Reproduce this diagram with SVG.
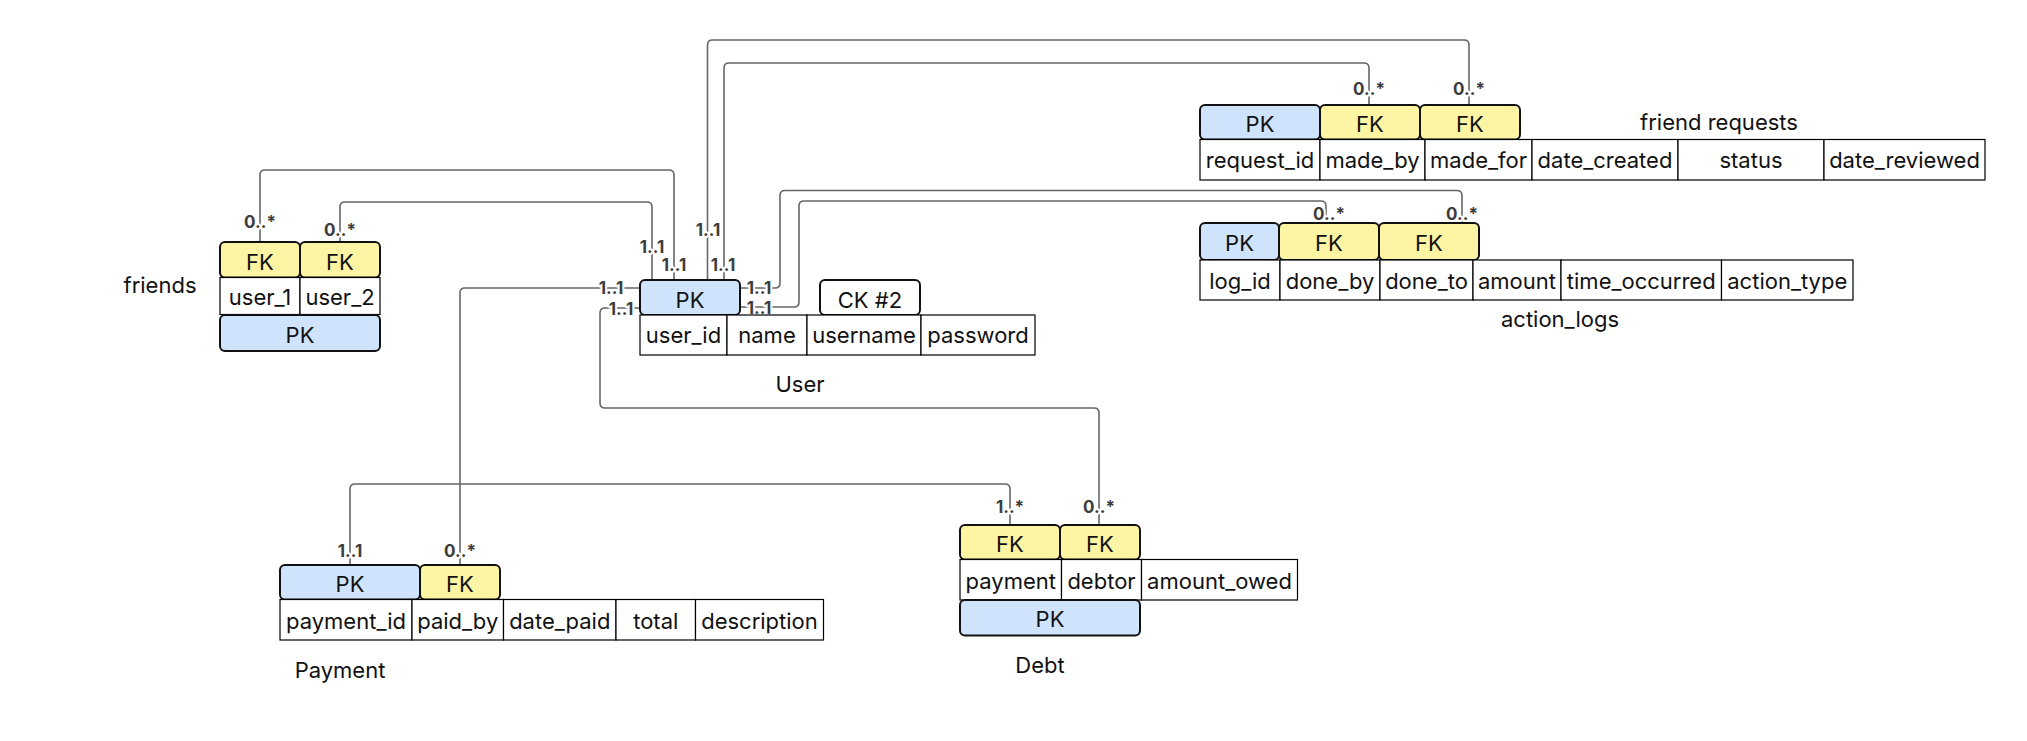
<svg xmlns="http://www.w3.org/2000/svg" width="2027" height="741" viewBox="0 0 2027 741">
<style>
text{font-family:Inter,"Liberation Sans",sans-serif;fill:#111;}
.t{font-size:22px;text-anchor:middle;}
.title{font-size:22px;text-anchor:middle;}
.pk{fill:#cfe3fc;stroke:#111;stroke-width:2;}
.fk{fill:#fdf5a3;stroke:#111;stroke-width:2;}
.ck{fill:#fff;stroke:#111;stroke-width:2;}
.cell{fill:#fff;stroke:#000;stroke-width:1.2;}
.c path{fill:none;stroke:#666;stroke-width:1.6;}
.lbl{font-size:17px;font-weight:700;text-anchor:middle;fill:#3c3c3c;stroke:#fff;stroke-width:4;paint-order:stroke;stroke-linejoin:round;}
</style>
<rect width="2027" height="741" fill="#fff"/>
<g id="connectors" class="c">
<path d="M260,242 V175 Q260,170 265,170 H669 Q674,170 674,175 V280"/>
<path d="M340,242 V207 Q340,202 345,202 H647 Q652,202 652,207 V280"/>
<path d="M707.5,280 V45 Q707.5,40 712.5,40 H1464 Q1469,40 1469,45 V105"/>
<path d="M724,280 V68 Q724,63 729,63 H1364 Q1369,63 1369,68 V105"/>
<path d="M740,288 H775 Q780,288 780,283 V195.5 Q780,190.5 785,190.5 H1457 Q1462,190.5 1462,195.5 V223"/>
<path d="M740,307 H794 Q799,307 799,302 V206 Q799,201 804,201 H1321 Q1326,201 1326,206 V223"/>
<path d="M640,288 H465 Q460,288 460,293 V565"/>
<path d="M640,308 H605 Q600,308 600,313 V403 Q600,408 605,408 H1094 Q1099,408 1099,413 V525"/>
<path d="M350,565 V489 Q350,484 355,484 H1005 Q1010,484 1010,489 V525"/>
<text class="lbl" x="260" y="228">0..*</text>
<text class="lbl" x="340" y="236">0..*</text>
<text class="lbl" x="652" y="253">1..1</text>
<text class="lbl" x="674" y="271">1..1</text>
<text class="lbl" x="708" y="236">1..1</text>
<text class="lbl" x="723" y="271">1..1</text>
<text class="lbl" x="1369" y="95">0..*</text>
<text class="lbl" x="1469" y="95">0..*</text>
<text class="lbl" x="759" y="294">1..1</text>
<text class="lbl" x="759" y="313.5">1..1</text>
<text class="lbl" x="611" y="294">1..1</text>
<text class="lbl" x="621" y="314.5">1..1</text>
<text class="lbl" x="1329" y="220">0..*</text>
<text class="lbl" x="1462" y="220">0..*</text>
<text class="lbl" x="350" y="557">1..1</text>
<text class="lbl" x="460" y="557">0..*</text>
<text class="lbl" x="1010" y="513">1..*</text>
<text class="lbl" x="1099" y="513">0..*</text>
</g>
<g id="friends">
<rect class="fk" x="220" y="242" width="80" height="35.5" rx="5"/>
<rect class="fk" x="300" y="242" width="80" height="35.5" rx="5"/>
<text class="t" x="260" y="270">FK</text>
<text class="t" x="340" y="270">FK</text>
<rect class="cell" x="220" y="277.5" width="80" height="37"/>
<rect class="cell" x="300" y="277.5" width="80" height="37"/>
<text class="t" x="260" y="305">user_1</text>
<text class="t" x="340" y="305">user_2</text>
<rect class="pk" x="220" y="315" width="160" height="36" rx="5"/>
<text class="t" x="300" y="343">PK</text>
<text class="title" x="160" y="292.7">friends</text>
</g>
<g id="user">
<rect class="pk" x="640" y="280" width="100" height="35" rx="5"/>
<text class="t" x="690" y="307.5">PK</text>
<rect class="ck" x="820" y="280" width="100" height="35" rx="5"/>
<text class="t" x="870" y="307.5">CK #2</text>
<rect class="cell" x="640" y="315" width="87" height="40"/>
<rect class="cell" x="727" y="315" width="80" height="40"/>
<rect class="cell" x="807" y="315" width="114" height="40"/>
<rect class="cell" x="921" y="315" width="114" height="40"/>
<text class="t" x="683.5" y="343">user_id</text>
<text class="t" x="767" y="343">name</text>
<text class="t" x="864" y="343">username</text>
<text class="t" x="978" y="343">password</text>
<text class="title" x="800" y="391.7">User</text>
</g>
<g id="friend_requests">
<rect class="pk" x="1200" y="105" width="120" height="34.5" rx="5"/>
<rect class="fk" x="1320" y="105" width="100" height="34.5" rx="5"/>
<rect class="fk" x="1420" y="105" width="100" height="34.5" rx="5"/>
<text class="t" x="1260" y="132">PK</text>
<text class="t" x="1370" y="132">FK</text>
<text class="t" x="1470" y="132">FK</text>
<rect class="cell" x="1200" y="139.5" width="120" height="40.5"/>
<rect class="cell" x="1320" y="139.5" width="105" height="40.5"/>
<rect class="cell" x="1425" y="139.5" width="107" height="40.5"/>
<rect class="cell" x="1532" y="139.5" width="146" height="40.5"/>
<rect class="cell" x="1678" y="139.5" width="146" height="40.5"/>
<rect class="cell" x="1824" y="139.5" width="161" height="40.5"/>
<text class="t" x="1260" y="168">request_id</text>
<text class="t" x="1372.5" y="168">made_by</text>
<text class="t" x="1478.5" y="168">made_for</text>
<text class="t" x="1605" y="168">date_created</text>
<text class="t" x="1751" y="168">status</text>
<text class="t" x="1904.5" y="168">date_reviewed</text>
<text class="title" x="1719" y="130">friend requests</text>
</g>
<g id="action_logs">
<rect class="pk" x="1200" y="223" width="79" height="37" rx="5"/>
<rect class="fk" x="1279" y="223" width="100" height="37" rx="5"/>
<rect class="fk" x="1379" y="223" width="100" height="37" rx="5"/>
<text class="t" x="1239.5" y="251">PK</text>
<text class="t" x="1329" y="251">FK</text>
<text class="t" x="1429" y="251">FK</text>
<rect class="cell" x="1200" y="260" width="80" height="40"/>
<rect class="cell" x="1280" y="260" width="100" height="40"/>
<rect class="cell" x="1380" y="260" width="93" height="40"/>
<rect class="cell" x="1473" y="260" width="88" height="40"/>
<rect class="cell" x="1561" y="260" width="160.5" height="40"/>
<rect class="cell" x="1721.5" y="260" width="131.5" height="40"/>
<text class="t" x="1240" y="289">log_id</text>
<text class="t" x="1330" y="289">done_by</text>
<text class="t" x="1426.5" y="289">done_to</text>
<text class="t" x="1517" y="289">amount</text>
<text class="t" x="1641.25" y="289">time_occurred</text>
<text class="t" x="1787.25" y="289">action_type</text>
<text class="title" x="1560" y="327">action_logs</text>
</g>
<g id="payment">
<rect class="pk" x="280" y="565" width="140" height="34.5" rx="5"/>
<rect class="fk" x="420" y="565" width="80" height="34.5" rx="5"/>
<text class="t" x="350" y="592">PK</text>
<text class="t" x="460" y="592">FK</text>
<rect class="cell" x="280" y="599.5" width="132" height="40.5"/>
<rect class="cell" x="412" y="599.5" width="91.5" height="40.5"/>
<rect class="cell" x="503.5" y="599.5" width="112.5" height="40.5"/>
<rect class="cell" x="616" y="599.5" width="79.5" height="40.5"/>
<rect class="cell" x="695.5" y="599.5" width="128" height="40.5"/>
<text class="t" x="346" y="628.5">payment_id</text>
<text class="t" x="457.75" y="628.5">paid_by</text>
<text class="t" x="559.75" y="628.5">date_paid</text>
<text class="t" x="655.75" y="628.5">total</text>
<text class="t" x="759.5" y="628.5">description</text>
<text class="title" x="340" y="678">Payment</text>
</g>
<g id="debt">
<rect class="fk" x="960" y="525" width="100" height="34.5" rx="5"/>
<rect class="fk" x="1060" y="525" width="80" height="34.5" rx="5"/>
<text class="t" x="1010" y="552">FK</text>
<text class="t" x="1100" y="552">FK</text>
<rect class="cell" x="960" y="559.5" width="101.5" height="40.5"/>
<rect class="cell" x="1061.5" y="559.5" width="80" height="40.5"/>
<rect class="cell" x="1141.5" y="559.5" width="156" height="40.5"/>
<text class="t" x="1010.75" y="588.5">payment</text>
<text class="t" x="1101.5" y="588.5">debtor</text>
<text class="t" x="1219.5" y="588.5">amount_owed</text>
<rect class="pk" x="960" y="600" width="180" height="35.5" rx="5"/>
<text class="t" x="1050" y="627">PK</text>
<text class="title" x="1040" y="672.7">Debt</text>
</g>
</svg>
